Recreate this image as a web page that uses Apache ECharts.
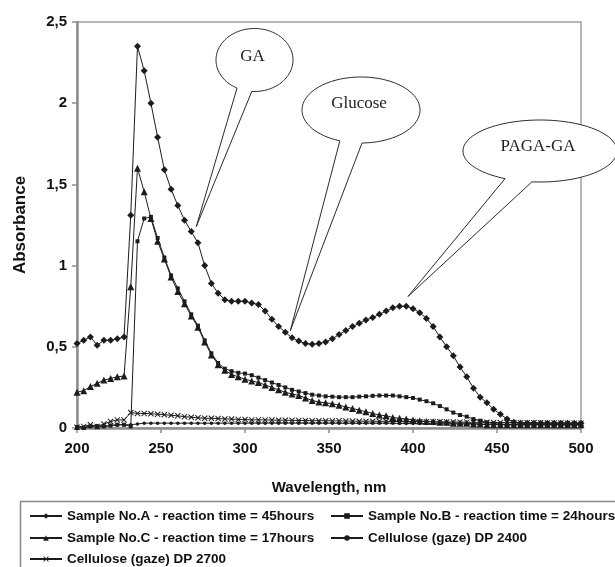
<!DOCTYPE html>
<html>
<head>
<meta charset="utf-8">
<script src="https://cdn.jsdelivr.net/npm/echarts@6/dist/echarts.min.js"></script>
<style>
  html, body { margin: 0; padding: 0; background: #fff; }
  #main { width: 615px; height: 567px; }
</style>
</head>
<body>
<div id="main"></div>
<script>
// wavelength grid, nm
var wavelengths = [200,204,208,212,216,220,224,228,232,236,240,244,248,252,256,260,264,268,272,276,
  280,284,288,292,296,300,304,308,312,316,320,324,328,332,336,340,344,348,352,356,
  360,364,368,372,376,380,384,388,392,396,400,404,408,412,416,420,424,428,432,436,
  440,444,448,452,456,460,464,468,472,476,480,484,488,492,496,500];

var sampleA = [0.52,0.54,0.56,0.51,0.54,0.54,0.55,0.56,1.31,2.35,2.20,2.00,1.79,1.59,1.47,1.37,1.28,1.21,1.14,1.00,
  0.89,0.83,0.79,0.78,0.78,0.78,0.77,0.76,0.72,0.67,0.625,0.59,0.555,0.535,0.52,0.515,0.52,0.53,0.55,0.575,
  0.60,0.625,0.645,0.665,0.68,0.70,0.72,0.74,0.75,0.75,0.735,0.71,0.675,0.625,0.56,0.50,0.445,0.375,0.315,0.245,
  0.19,0.155,0.115,0.085,0.055,0.035,0.03,0.03,0.03,0.03,0.03,0.03,0.03,0.03,0.03,0.03];

var sampleB = [0.00,0.00,0.01,0.005,0.01,0.015,0.02,0.02,0.01,1.15,1.29,1.30,1.17,1.05,0.94,0.86,0.78,0.70,0.63,0.54,
  0.46,0.40,0.365,0.35,0.34,0.335,0.325,0.31,0.295,0.28,0.265,0.25,0.235,0.225,0.215,0.205,0.20,0.195,0.193,0.19,
  0.19,0.19,0.193,0.195,0.198,0.20,0.20,0.20,0.195,0.19,0.185,0.175,0.165,0.152,0.135,0.115,0.095,0.08,0.07,0.055,
  0.045,0.035,0.028,0.023,0.02,0.02,0.02,0.02,0.02,0.02,0.02,0.02,0.02,0.02,0.02,0.02];

var sampleC = [0.22,0.23,0.255,0.275,0.295,0.305,0.315,0.32,0.87,1.60,1.455,1.29,1.15,1.04,0.93,0.84,0.765,0.69,0.62,0.53,
  0.45,0.39,0.355,0.33,0.315,0.30,0.29,0.28,0.265,0.25,0.235,0.22,0.21,0.20,0.185,0.17,0.16,0.155,0.15,0.14,
  0.13,0.12,0.11,0.10,0.09,0.08,0.075,0.065,0.06,0.055,0.05,0.045,0.04,0.04,0.035,0.035,0.03,0.03,0.03,0.025,
  0.025,0.02,0.02,0.02,0.02,0.02,0.02,0.02,0.02,0.02,0.02,0.02,0.02,0.02,0.02,0.02];

var cellulose2400 = [0.01,0.005,0.01,0.015,0.01,0.015,0.02,0.02,
  0.02,0.025,0.03,0.03,0.03,0.03,0.03,0.03,0.03,0.03,
  0.03,0.03,0.03,0.03,0.03,0.03,0.03,0.03,0.03,0.03,
  0.03,0.03,0.03,0.03,0.03,0.03,0.03,0.03,0.03,0.03,
  0.03,0.03,0.03,0.03,0.03,0.03,0.03,0.03,0.03,0.03,
  0.028,0.028,0.028,0.027,0.027,0.027,0.026,0.026,0.026,0.025,
  0.025,0.025,0.024,0.024,0.024,0.023,0.023,0.023,0.022,0.022,
  0.022,0.022,0.021,0.021,0.021,0.02,0.02,0.02];

var cellulose2700 = [0.005,0.01,0.02,0.01,0.025,0.04,0.05,0.05,0.095,0.09,0.09,0.088,0.085,0.082,0.078,0.075,0.07,0.066,0.063,0.06,
  0.06,0.058,0.056,0.055,0.053,0.052,
  0.05,0.05,0.05,0.049,0.048,0.048,0.047,0.046,0.046,0.045,
  0.045,0.045,0.044,0.044,0.043,0.043,0.042,0.042,0.042,0.041,
  0.041,0.04,0.04,0.04,0.04,0.039,0.039,0.038,0.038,0.037,
  0.037,0.036,0.036,0.035,0.035,0.035,0.034,0.034,0.033,0.033,
  0.033,0.032,0.032,0.032,0.031,0.031,0.031,0.03,0.03,0.03];

var yTickValues = [0, 0.5, 1, 1.5, 2, 2.5];
var yTickLabels = ['0', '0,5', '1', '1,5', '2', '2,5'];

var nameA = 'Sample No.A - reaction time = 45hours';
var nameB = 'Sample No.B - reaction time = 24hours';
var nameC = 'Sample No.C - reaction time = 17hours';
var name2400 = 'Cellulose (gaze) DP 2400';
var name2700 = 'Cellulose (gaze) DP 2700';

// callouts: label and the point (wavelength, absorbance) the pointer touches
var calloutLabels = ['GA', 'Glucose', 'PAGA-GA'];
var calloutTips = [[271, 1.24], [327, 0.60], [397, 0.81]];

function pairs(ys) {
  return wavelengths.map(function (x, i) { return [x, ys[i]]; });
}

var ink = '#1c1c1c';
var axisGray = '#8e8e8e';
var labelFont = { fontFamily: 'Liberation Sans', fontWeight: 'bold', fontSize: 15, color: '#111' };
var legendFont = { fontFamily: 'Liberation Sans', fontWeight: 'bold', fontSize: 13.5, color: '#111' };

function lineSeries(name, ys, symbol, size) {
  return {
    name: name,
    type: 'line',
    data: pairs(ys),
    symbol: symbol,
    symbolSize: size,
    showAllSymbol: true,
    lineStyle: { color: ink, width: 1 },
    itemStyle: { color: ink },
    emphasis: { disabled: true }
  };
}

// one legend per entry so the two columns line up like the original box
function legendItem(name, left, top) {
  return {
    left: left, top: top,
    itemWidth: 32, itemHeight: 7, itemGap: 0,
    data: [name],
    textStyle: legendFont
  };
}

var crossSymbol = 'path://M0,1.2L1.2,0L10,8.8L8.8,10Z M8.8,0L10,1.2L1.2,10L0,8.8Z';

var myChart = echarts.init(document.getElementById('main'));
var option = {
  animation: false,
  backgroundColor: '#fff',
  grid: {
    left: 77, right: 34, top: 22, bottom: 139,
    show: true, borderColor: '#a0a0a0', borderWidth: 1.5, backgroundColor: 'transparent'
  },
  xAxis: {
    type: 'value',
    min: 200, max: 500, interval: 50,
    name: 'Wavelength, nm',
    nameLocation: 'middle',
    nameGap: 52,
    nameTextStyle: { fontFamily: 'Liberation Sans', fontWeight: 'bold', fontSize: 15, color: '#111' },
    axisLine: { lineStyle: { color: axisGray, width: 2.5 } },
    axisTick: { show: true, length: 5, lineStyle: { color: axisGray, width: 1.5 } },
    axisLabel: Object.assign({ margin: 13 }, labelFont),
    splitLine: { show: false }
  },
  yAxis: {
    type: 'value',
    min: 0, max: 2.5, interval: 0.5,
    name: 'Absorbance',
    nameLocation: 'middle',
    nameGap: 48,
    nameTextStyle: { fontFamily: 'Liberation Sans', fontWeight: 'bold', fontSize: 17, color: '#111' },
    axisLine: { show: true, lineStyle: { color: axisGray, width: 2.5 } },
    axisTick: { show: true, length: 5, lineStyle: { color: axisGray, width: 1.5 } },
    axisLabel: Object.assign({
      margin: 10,
      formatter: function (v) {
        var i = yTickValues.indexOf(v);
        return i >= 0 ? yTickLabels[i] : '';
      }
    }, labelFont),
    splitLine: { show: false }
  },
  legend: [
    legendItem(nameA, 24, 504),
    legendItem(nameC, 24, 526),
    legendItem(name2700, 24, 547),
    legendItem(nameB, 325, 504),
    legendItem(name2400, 325, 526)
  ],
  series: [
    lineSeries(name2400, cellulose2400, 'circle', 3.5),
    lineSeries(name2700, cellulose2700, crossSymbol, 6),
    lineSeries(nameC, sampleC, 'triangle', 7),
    lineSeries(nameB, sampleB, 'rect', 4),
    lineSeries(nameA, sampleA, 'diamond', 7)
  ]
};
myChart.setOption(option, true);

// speech-bubble callouts drawn on top, pointer ends at the data point
var bubbles = [
  { cx: 254.5, cy: 60, rx: 38.5, ry: 31.5, gap: [94, 117], dy: -3 },
  { cx: 361, cy: 110, rx: 59, ry: 33, gap: [89, 111], dy: -6 },
  { cx: 540, cy: 151, rx: 77, ry: 31, gap: [96, 117], dy: -4 }
];

function bubbleOutline(b, tip) {
  var pts = [];
  var a0 = b.gap[0] * Math.PI / 180;
  var a1 = b.gap[1] * Math.PI / 180;
  var end = a0 + Math.PI * 2;
  for (var t = a1; t <= end; t += 0.05) {
    pts.push([b.cx + b.rx * Math.cos(t), b.cy + b.ry * Math.sin(t)]);
  }
  pts.push([b.cx + b.rx * Math.cos(end), b.cy + b.ry * Math.sin(end)]);
  pts.push(tip);
  return pts;
}

var graphics = [{
  type: 'rect',
  shape: { x: 20.5, y: 501.5, width: 640, height: 100 },
  style: { fill: 'none', stroke: '#8a8a8a', lineWidth: 1.5 },
  z: 1
}];
calloutLabels.forEach(function (label, i) {
  var tip = myChart.convertToPixel({ gridIndex: 0 }, calloutTips[i]);
  var b = bubbles[i];
  graphics.push({
    type: 'polygon',
    shape: { points: bubbleOutline(b, tip) },
    style: { fill: '#fff', stroke: '#2a2a2a', lineWidth: 1 },
    z: 100
  });
  graphics.push({
    type: 'text',
    x: b.cx - 2, y: b.cy + b.dy,
    style: {
      text: label,
      font: '17px "Liberation Serif"',
      fill: '#222',
      align: 'center',
      verticalAlign: 'middle'
    },
    z: 101
  });
});
myChart.setOption({ graphic: graphics });
</script>
</body>
</html>
